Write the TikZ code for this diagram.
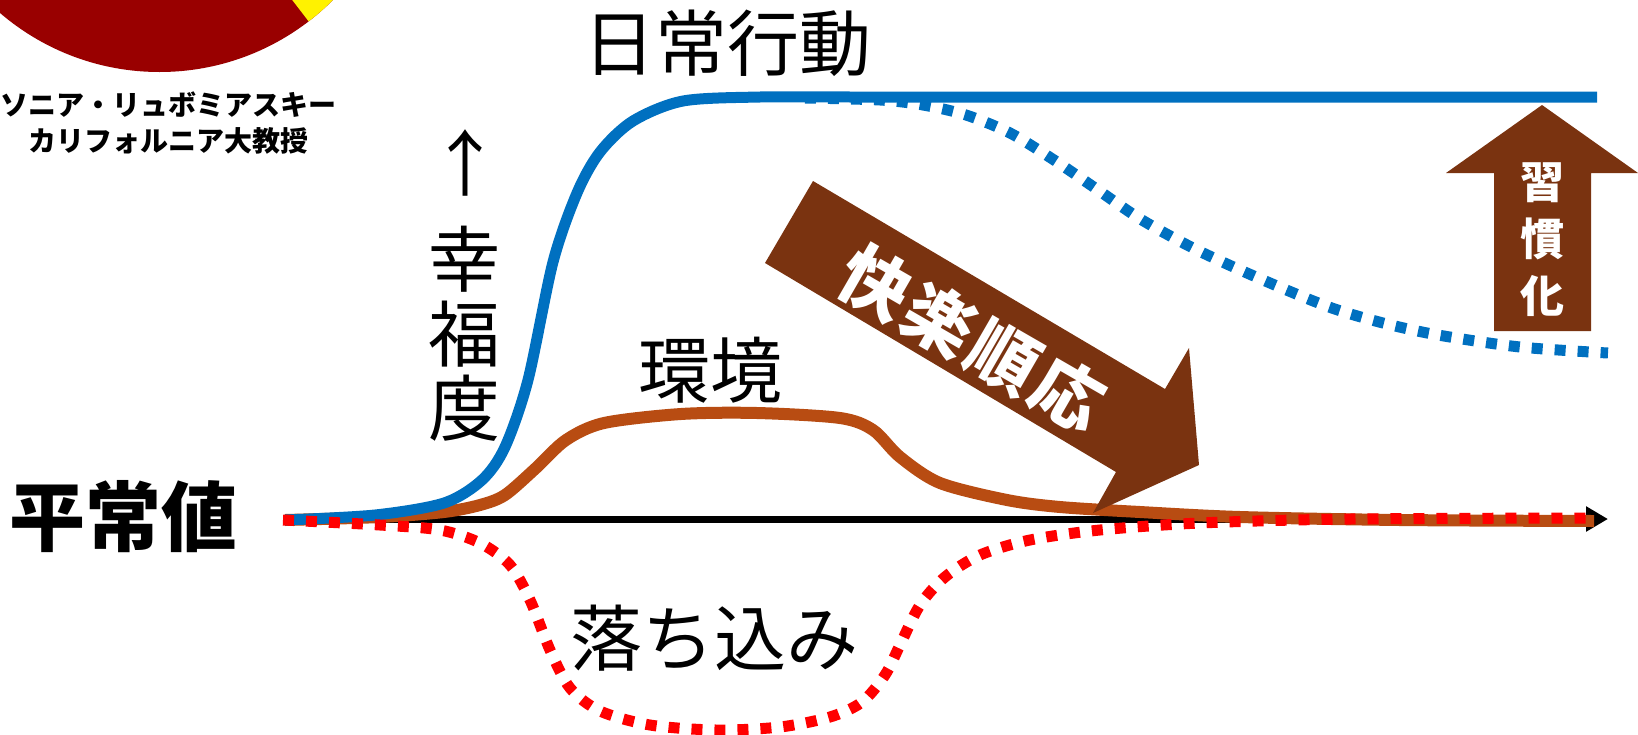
\documentclass[tikz,border=0pt]{standalone}
\usepackage{fontspec}
\newfontfamily\jp{Noto Sans CJK JP}
\usetikzlibrary{arrows.meta}
\definecolor{cblue}{HTML}{0070C0}
\definecolor{cbrown}{HTML}{B84C12}
\definecolor{abrown}{HTML}{7A3310}
\definecolor{cdred}{HTML}{990000}
\definecolor{cred}{HTML}{FF0000}
\begin{document}
\begin{tikzpicture}[x=0.5pt,y=-0.5pt,
  txt/.style={inner sep=0pt, align=center, text=black},
  big/.style={txt, font=\jp\fontsize{36pt}{37.25pt}\selectfont},
  bigb/.style={txt, font=\jp\bfseries\fontsize{38pt}{38pt}\selectfont},
  dotline/.style={line width=5.5pt, dash pattern=on 5.5pt off 6pt, line cap=butt},
  curve/.style={line width=6pt, line cap=butt}]
\useasboundingbox (0,0) rectangle (1638,734);
% portrait circle (partial)
\begin{scope}
\clip (0,0) rectangle (1638,734);
\fill[cdred] (159.5,-173) circle (245);
\fill[yellow] (159.5,-173) -- ++(52.5:245) arc (52.5:0:245) -- cycle;
\end{scope}
\node[txt, font=\jp\bfseries\fontsize{14pt}{18pt}\selectfont] (name) at (168,123) {ソニア・リュボミアスキー\\カリフォルニア大教授};
% axis
\coordinate (o) at (284,519);
\coordinate (axend) at (1608,519);
\draw[line width=3.5pt, -{Triangle[length=11pt,width=12pt]}] (o) -- (axend);
% environment curve
\draw[curve, cbrown] plot[smooth, tension=0.5] coordinates {(285,520) (380,517) (444,512) (480,505) (505,495) (536,468) (566,440) (604,423) (681,414) (757,413) (840,418) (873,430) (900,457) (940,483) (1007,500) (1060,507) (1140,512) (1240,517) (1400,520) (1594,521)};
% daily behaviour curve
\draw[curve, cblue, line width=5.5pt] plot[smooth, tension=0.5] coordinates {(285,520) (375,515) (444,503) (482,480) (505,447) (528,380) (553,262) (577,193) (600,152) (633,121) (683,101) (760,97) (850,97)} -- (1597,97);
% habituation dotted
\draw[dotline, cblue] plot[smooth, tension=0.5] coordinates {(805,98) (880,100) (923,105) (966,115) (1010,133) (1054,160) (1098,190) (1142,220) (1197,250) (1263,280) (1329,307) (1383,323) (1438,335) (1520,347) (1608,353)};
% depression dotted
\draw[dotline, cred] plot[smooth, tension=0.5] coordinates {(283,520) (380,525) (440,530) (480,543) (510,565) (530,600) (550,650) (570,688) (600,711) (650,725) (716,730) (780,727) (830,717) (862,702) (885,675) (900,645) (920,605) (945,577) (980,555) (1030,540) (1100,530) (1200,523) (1350,519) (1594,518)};
% hedonic adaptation arrow
\fill[abrown] (813,181) -- (1165,389) -- (1189,348) -- (1199,465) -- (1093,513) -- (1116,472) -- (765,263) -- cycle;
\node[txt, text=white, font=\jp\bfseries\fontsize{35pt}{35pt}\selectfont, rotate=-30] (adapt) at (972,339) {快\hspace{2pt}楽\hspace{2pt}順\hspace{2pt}応};
% habituation arrow
\fill[abrown] (1542,105) -- (1638,173) -- (1591,173) -- (1591,331) -- (1494,331) -- (1494,173) -- (1446,173) -- cycle;
\node[txt, text=white, font=\jp\bfseries\fontsize{22pt}{28.5pt}\selectfont] (habit) at (1542,240) {習\\慣\\化};
% labels
\node[big] (daily) at (727,43) {日常行動};
\node[bigb] (normal) at (124,517) {平常値};
\node[big] (up) at (465,163) {↑};
\node[big] (happy) at (464,334) {幸\\福\\度};
\node[big] (env) at (710,370) {環境};
\node[big] (down) at (714,638) {落ち込み};
\end{tikzpicture}
\end{document}
